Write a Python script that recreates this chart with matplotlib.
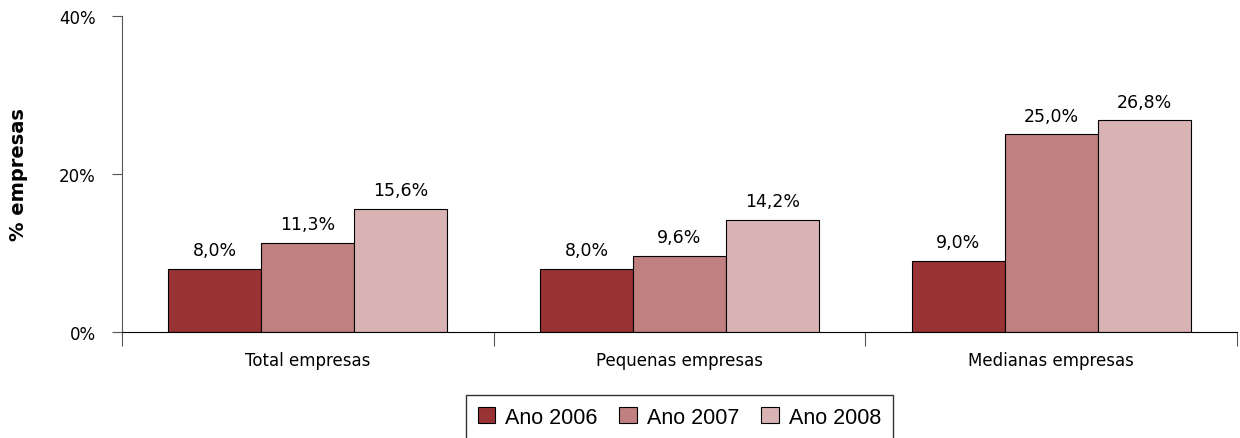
import matplotlib
matplotlib.use("Agg")
import matplotlib.pyplot as plt
import numpy as np

categorias = ["Total empresas", "Pequenas empresas", "Medianas empresas"]
anos = ["Ano 2006", "Ano 2007", "Ano 2008"]
v2006 = [8.0, 8.0, 9.0]
v2007 = [11.3, 9.6, 25.0]
v2008 = [15.6, 14.2, 26.8]
cores = ["#993333", "#C08080", "#D9B3B3"]

fig = plt.figure(figsize=(12.4, 4.39), dpi=100)
ax = fig.add_axes([0.0984, 0.2415, 0.8992, 0.7198])

x = np.arange(len(categorias))
w = 0.25
series = [v2006, v2007, v2008]
for i, (vals, lab, c) in enumerate(zip(series, anos, cores)):
    bars = ax.bar(x + (i - 1) * w, vals, w, color=c, edgecolor="black",
                  linewidth=0.8, label=lab)
    for b, v in zip(bars, vals):
        ax.annotate(("%.1f%%" % v).replace(".", ","),
                    (b.get_x() + b.get_width() / 2, v),
                    xytext=(0, 7), textcoords="offset points",
                    ha="center", va="bottom", fontsize=12.5)

ax.set_xlim(-0.5, 2.5)
ax.set_ylim(0, 40)
ax.set_yticks([0, 20, 40])
ax.set_yticklabels(["0%", "20%", "40%"], fontsize=12)
ax.set_xticks(x)
ax.set_xticklabels(categorias, fontsize=12)
ax.tick_params(axis="x", length=0, pad=14)
ax.set_xticks([-0.5, 0.5, 1.5, 2.5], minor=True)
ax.tick_params(axis="x", which="minor", length=10, width=0.8, color="#555555")
ax.tick_params(axis="y", length=7, width=0.8, color="#555555", pad=12)
ax.spines["top"].set_visible(False)
ax.spines["right"].set_visible(False)
ax.spines["left"].set_color("#555555")
ax.spines["bottom"].set_color("black")
ax.set_ylabel("% empresas", fontsize=14, fontweight="bold", labelpad=22)

leg = ax.legend(loc="upper center", bbox_to_anchor=(0.5, -0.165), ncol=3,
                frameon=True, fancybox=False, edgecolor="black",
                prop={"family": "Liberation Sans", "size": 15.5},
                handlelength=0.8, handleheight=0.8, handletextpad=0.5,
                columnspacing=1.0, borderpad=0.55)
leg.get_frame().set_linewidth(1.0)

fig.savefig("out.png", dpi=100)
